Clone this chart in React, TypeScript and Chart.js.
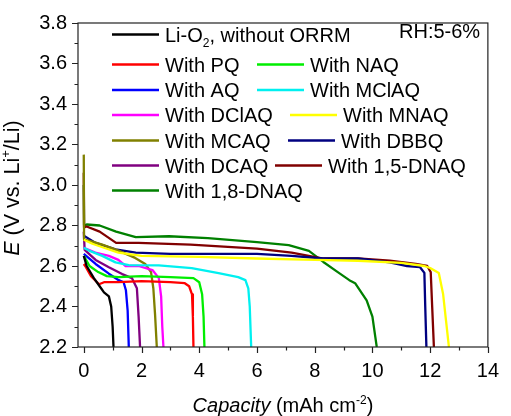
import React, { useEffect, useRef } from "react";
import { Chart, registerables } from "chart.js";

Chart.register(...registerables);

const FONT = '"Liberation Sans", Arial, Helvetica, sans-serif';

// Axis ticks
const xTickValues = [0, 2, 4, 6, 8, 10, 12, 14];
const yTickValues = [2.2, 2.4, 2.6, 2.8, 3.0, 3.2, 3.4, 3.6, 3.8];

// Series names and line colours
const seriesNames = [
  "Li-O₂, without ORRM",
  "With PQ",
  "With NAQ",
  "With AQ",
  "With MClAQ",
  "With DClAQ",
  "With MNAQ",
  "With MCAQ",
  "With DBBQ",
  "With DCAQ",
  "With 1,5-DNAQ",
  "With 1,8-DNAQ",
];
const seriesColors = [
  "#000000",
  "#ff0000",
  "#00ee00",
  "#0000ff",
  "#00f0f0",
  "#ff00ff",
  "#ffff00",
  "#808000",
  "#000080",
  "#800080",
  "#800000",
  "#008000",
];

// Discharge curves: capacity (mAh cm-2) and potential E (V vs. Li+/Li)
const capLiO2 = [0, 0.1, 0.35, 0.55, 0.7, 0.87, 0.95, 1.0, 1.03];
const eLiO2 = [2.65, 2.6, 2.54, 2.5, 2.47, 2.45, 2.4, 2.3, 2.2];

const capPQ = [0, 0.05, 0.25, 0.53, 0.7, 1.2, 2.0, 3.0, 3.5, 3.65, 3.75, 3.78, 3.8];
const ePQ = [2.61, 2.6, 2.55, 2.51, 2.52, 2.52, 2.525, 2.52, 2.515, 2.5, 2.46, 2.35, 2.2];

const capNAQ = [0, 0.2, 0.5, 0.8, 1.2, 2.0, 3.0, 3.8, 4.0, 4.1, 4.15, 4.18];
const eNAQ = [2.65, 2.6, 2.57, 2.55, 2.545, 2.55, 2.545, 2.54, 2.52, 2.46, 2.35, 2.2];

const capAQ = [0, 0.41, 0.87, 1.21, 1.38, 1.46, 1.52, 1.56];
const eAQ = [2.66, 2.61, 2.562, 2.53, 2.52, 2.48, 2.38, 2.2];

const capMClAQ = [0, 0.18, 0.64, 1.1, 1.56, 2.6, 3.74, 4.67, 5.35, 5.6, 5.7, 5.75, 5.8];
const eMClAQ = [2.69, 2.676, 2.65, 2.618, 2.604, 2.603, 2.59, 2.565, 2.545, 2.53, 2.49, 2.4, 2.2];

const capDClAQ = [0, 0.4, 0.87, 1.2, 1.45, 1.9, 2.38, 2.6, 2.68, 2.72, 2.76];
const eDClAQ = [2.69, 2.666, 2.65, 2.63, 2.6, 2.6, 2.58, 2.54, 2.45, 2.3, 2.2];

const capMNAQ = [0, 0.3, 0.7, 1.2, 2.0, 4.0, 6.0, 8.0, 9.5, 11.0, 11.8, 12.0, 12.3, 12.45, 12.55, 12.65];
const eMNAQ = [2.73, 2.71, 2.69, 2.666, 2.65, 2.645, 2.637, 2.63, 2.626, 2.615, 2.6, 2.59, 2.565, 2.46, 2.33, 2.2];

const capMCAQ = [0, 0.01, 0.3, 0.64, 1.2, 1.78, 2.13, 2.33, 2.41, 2.47, 2.53];
const eMCAQ = [3.15, 2.73, 2.72, 2.706, 2.676, 2.64, 2.61, 2.57, 2.49, 2.36, 2.2];

const capDBBQ = [0, 0.41, 1.1, 1.8, 3.0, 4.5, 6.0, 7.2, 8.3, 9.5, 10.6, 11.2, 11.65, 11.8, 11.83, 11.87];
const eDBBQ = [2.75, 2.714, 2.682, 2.666, 2.66, 2.66, 2.66, 2.65, 2.637, 2.637, 2.618, 2.6, 2.594, 2.566, 2.4, 2.2];

const capDCAQ = [0, 0.03, 0.41, 0.87, 1.33, 1.67, 1.84, 1.9, 1.95];
const eDCAQ = [2.77, 2.68, 2.63, 2.594, 2.56, 2.54, 2.49, 2.35, 2.2];

const cap15DNAQ = [0, 0.01, 0.1, 0.55, 1.12, 1.9, 3.7, 6.0, 7.2, 8.3, 9.5, 10.6, 11.5, 11.9, 12.02, 12.07, 12.13];
const e15DNAQ = [3.06, 2.79, 2.795, 2.77, 2.714, 2.714, 2.706, 2.686, 2.666, 2.637, 2.637, 2.626, 2.61, 2.6, 2.57, 2.4, 2.2];

const cap18DNAQ = [0, 0.01, 0.1, 0.55, 1.12, 1.8, 2.95, 4.3, 6.0, 7.1, 7.8, 8.3, 8.8, 9.2, 9.4, 9.8, 10.0, 10.1, 10.15];
const e18DNAQ = [3.0, 2.8, 2.805, 2.8, 2.77, 2.743, 2.747, 2.738, 2.718, 2.703, 2.675, 2.62, 2.57, 2.53, 2.515, 2.43, 2.35, 2.25, 2.2];

const seriesCaps = [capLiO2, capPQ, capNAQ, capAQ, capMClAQ, capDClAQ, capMNAQ, capMCAQ, capDBBQ, capDCAQ, cap15DNAQ, cap18DNAQ];
const seriesE = [eLiO2, ePQ, eNAQ, eAQ, eMClAQ, eDClAQ, eMNAQ, eMCAQ, eDBBQ, eDCAQ, e15DNAQ, e18DNAQ];

const annotation = "RH:5-6%";

type Part = { t: string; italic?: boolean; sub?: boolean; sup?: boolean };

function labelParts(s: string): Part[] {
  return s
    .split(/(₂)/)
    .filter((p) => p.length > 0)
    .map((p) => (p === "₂" ? { t: "2", sub: true } : { t: p }));
}

function drawRich(
  ctx: CanvasRenderingContext2D,
  parts: Part[],
  x: number,
  y: number,
  size: number,
  align: "left" | "center"
) {
  const fontFor = (p: Part) => {
    const s = p.sub || p.sup ? Math.round(size * 0.62) : size;
    return `${p.italic ? "italic " : ""}${s}px ${FONT}`;
  };
  const widths = parts.map((p) => {
    ctx.font = fontFor(p);
    return ctx.measureText(p.t).width;
  });
  const total = widths.reduce((a, b) => a + b, 0);
  let cx = align === "center" ? x - total / 2 : x;
  ctx.textAlign = "left";
  ctx.textBaseline = "alphabetic";
  parts.forEach((p, i) => {
    ctx.font = fontFor(p);
    const dy = p.sub ? size * 0.25 : p.sup ? -size * 0.4 : 0;
    ctx.fillText(p.t, cx, y + dy);
    cx += widths[i];
  });
}

// Legend rows: [series index, line start x] for each entry of the row
const legendRows: [number, number][][] = [
  [[0, 112]],
  [[1, 112], [2, 257]],
  [[3, 112], [4, 257]],
  [[5, 112], [6, 290]],
  [[7, 112], [8, 288]],
  [[9, 112], [10, 275]],
  [[11, 112]],
];
const legendRowY = [34.5, 64.5, 90, 115, 140.5, 165.5, 190.5];

const framePlugin = {
  id: "frameAndText",
  afterDatasetsDraw(chart: any) {
    const { ctx, chartArea, scales } = chart;
    const { left, right, top, bottom } = chartArea;
    const xs = scales.x;
    const ys = scales.y;
    ctx.save();
    ctx.strokeStyle = "#222";
    ctx.lineWidth = 1.2;
    ctx.strokeRect(left, top, right - left, bottom - top);

    // tick marks, major and minor, pointing outwards
    ctx.beginPath();
    for (let v = 0; v <= 14.001; v += 1) {
      const px = Math.round(xs.getPixelForValue(v)) + 0.5;
      const len = Math.abs(v % 2) < 0.01 ? 6 : 3.5;
      ctx.moveTo(px, bottom);
      ctx.lineTo(px, bottom + len);
    }
    for (let i = 0; i <= 16; i++) {
      const v = 2.2 + i * 0.1;
      const py = Math.round(ys.getPixelForValue(v)) + 0.5;
      const len = i % 2 === 0 ? 6 : 3.5;
      ctx.moveTo(left, py);
      ctx.lineTo(left - len, py);
    }
    ctx.stroke();

    // legend
    ctx.fillStyle = "#000";
    legendRows.forEach((row, r) => {
      const y = legendRowY[r];
      row.forEach(([idx, lx]) => {
        ctx.strokeStyle = seriesColors[idx];
        ctx.lineWidth = 2.5;
        ctx.beginPath();
        ctx.moveTo(lx, y);
        ctx.lineTo(lx + 47, y);
        ctx.stroke();
        drawRich(ctx, labelParts(seriesNames[idx]), lx + 53, y + 7, 20, "left");
      });
    });

    ctx.font = `20px ${FONT}`;
    ctx.textAlign = "left";
    ctx.fillText(annotation, 399, 38);

    // axis titles
    drawRich(
      ctx,
      [{ t: "Capacity", italic: true }, { t: " (mAh cm" }, { t: "-2", sup: true }, { t: ")" }],
      (left + right) / 2,
      412,
      20,
      "center"
    );
    ctx.translate(19, (top + bottom) / 2 + 3);
    ctx.rotate(-Math.PI / 2);
    drawRich(
      ctx,
      [{ t: "E", italic: true }, { t: " (V vs. Li" }, { t: "+", sup: true }, { t: "/Li)" }],
      0,
      0,
      21.5,
      "center"
    );
    ctx.restore();
  },
};

export default function App() {
  const canvasRef = useRef<HTMLCanvasElement | null>(null);

  useEffect(() => {
    if (!canvasRef.current) return;
    const datasets = seriesNames.map((name, i) => ({
      label: name,
      data: seriesCaps[i].map((c, j) => ({ x: c, y: seriesE[i][j] })),
      borderColor: seriesColors[i],
      backgroundColor: seriesColors[i],
      borderWidth: 2.3,
      pointRadius: 0,
      tension: 0,
      fill: false,
      borderJoinStyle: "round" as const,
    }));
    const chart = new Chart(canvasRef.current, {
      type: "line",
      data: { datasets },
      options: {
        animation: false,
        responsive: false,
        maintainAspectRatio: false,
        parsing: false,
        layout: { padding: { top: 14, right: 18, left: 0, bottom: 0 } },
        plugins: { legend: { display: false }, tooltip: { enabled: false } },
        scales: {
          x: {
            type: "linear",
            min: -0.2,
            max: 14,
            grid: { display: false, drawTicks: false },
            border: { display: false },
            ticks: {
              color: "#000",
              font: { size: 20, family: FONT },
              padding: 12,
              maxRotation: 0,
              callback: (v: any) => String(v),
            },
            afterBuildTicks: (s: any) => {
              s.ticks = xTickValues.map((v) => ({ value: v }));
            },
            afterFit: (s: any) => {
              s.height = 69;
            },
          },
          y: {
            type: "linear",
            min: 2.2,
            max: 3.8,
            grid: { display: false, drawTicks: false },
            border: { display: false },
            ticks: {
              color: "#000",
              font: { size: 20, family: FONT },
              padding: 11,
              callback: (v: any) => Number(v).toFixed(1),
            },
            afterBuildTicks: (s: any) => {
              s.ticks = yTickValues.map((v) => ({ value: v }));
            },
            afterFit: (s: any) => {
              s.width = 78;
            },
          },
        },
      },
      plugins: [framePlugin],
    });
    return () => chart.destroy();
  }, []);

  return (
    <div style={{ position: "absolute", left: 0, top: 0, width: 511, height: 416, background: "#fff" }}>
      <canvas ref={canvasRef} width={511} height={416} />
    </div>
  );
}
